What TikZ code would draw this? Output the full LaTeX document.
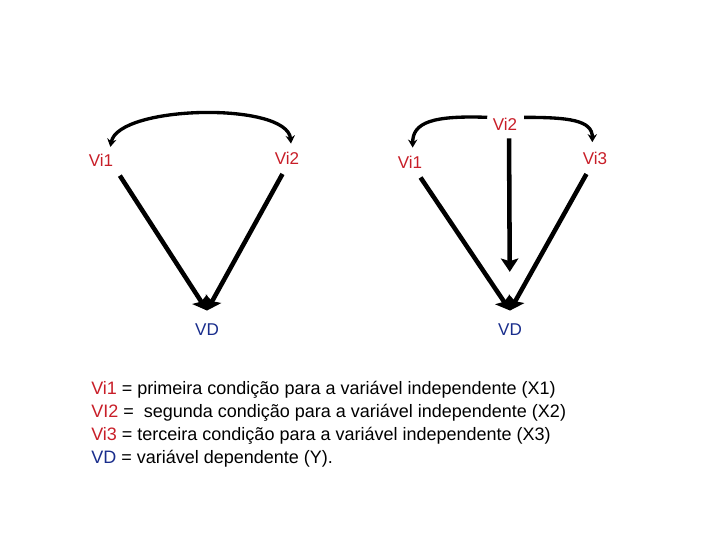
\documentclass[tikz,border=0pt]{standalone}
\usepackage{fontspec}
\setmainfont{Liberation Sans}
\usetikzlibrary{arrows.meta,positioning}
\tikzset{every node/.append style={align=center}}
\definecolor{vicolor}{RGB}{200, 30, 40}
\definecolor{vdcolor}{RGB}{25, 45, 140}

\begin{document}
\begin{tikzpicture}[
    x=0.75pt, y=0.75pt,
    vi/.style={text=vicolor, font=\fontsize{12.8}{15}\selectfont, inner sep=1pt},
    vd/.style={text=vdcolor, font=\fontsize{12.8}{15}\selectfont, inner sep=1pt},
    effect/.style={line width=3.4pt, -{Stealth[length=10pt, width=13pt, inset=2pt]}},
    link/.style={line width=2.5pt, {Stealth[length=6pt, width=7pt]}-{Stealth[length=6pt, width=7pt]}},
    onelink/.style={line width=2.5pt, -{Stealth[length=6pt, width=7pt]}}
]
    \useasboundingbox (0,0) rectangle (720,-540);

    % First design: two conditions
    \node[vi] (vione) at (101,-160) {Vi1};
    \node[vi] (vitwo) at (287,-158) {Vi2};
    \node[vd] (vdleft) at (207,-330) {VD};

    \draw[link] ([xshift=7pt, yshift=4pt]vione.north) .. controls +(8,42) and +(-4,42) .. ([xshift=3pt, yshift=5pt]vitwo.north);
    \draw[effect, shorten <=7pt] (vione.south east) -- ([yshift=9pt]vdleft.north);
    \draw[effect, shorten <=7pt] (vitwo.south) -- ([yshift=9pt]vdleft.north);

    % Second design: three conditions
    \node[vi] (vionebis) at (410,-162) {Vi1};
    \node[vi] (vitwobis) at (505,-124) {Vi2};
    \node[vi] (vithree) at (595,-158) {Vi3};
    \node[vd] (vdright) at (510,-330) {VD};

    \draw[onelink] ([xshift=-3pt, yshift=5pt]vitwobis.west) .. controls +(-55,2) and +(0,25) .. ([xshift=2pt, yshift=5pt]vionebis.north);
    \draw[onelink] ([xshift=4pt, yshift=5pt]vitwobis.east) .. controls +(45,0) and +(0,22) .. ([xshift=-2pt, yshift=6pt]vithree.north);
    \draw[effect, shorten <=5pt, shorten >=38pt] ([xshift=3pt]vitwobis.south) -- (vdright.north);
    \draw[effect, shorten <=7pt] ([xshift=4pt]vionebis.south) -- ([yshift=9pt]vdright.north);
    \draw[effect, shorten <=7pt] ([xshift=-3pt]vithree.south) -- ([yshift=9pt]vdright.north);

    % Legend
    \node[anchor=north west, align=left, inner sep=0pt, font=\fontsize{13.5}{17.3}\selectfont] (legend) at (91,-381) {
        \textcolor{vicolor}{Vi1} = primeira condição para a variável independente (X1) \\
        \textcolor{vicolor}{VI2} = \ segunda condição para a variável independente (X2) \\
        \textcolor{vicolor}{Vi3} = terceira condição para a variável independente (X3) \\
        \textcolor{vdcolor}{VD} = variável dependente (Y).
    };
\end{tikzpicture}
\end{document}
